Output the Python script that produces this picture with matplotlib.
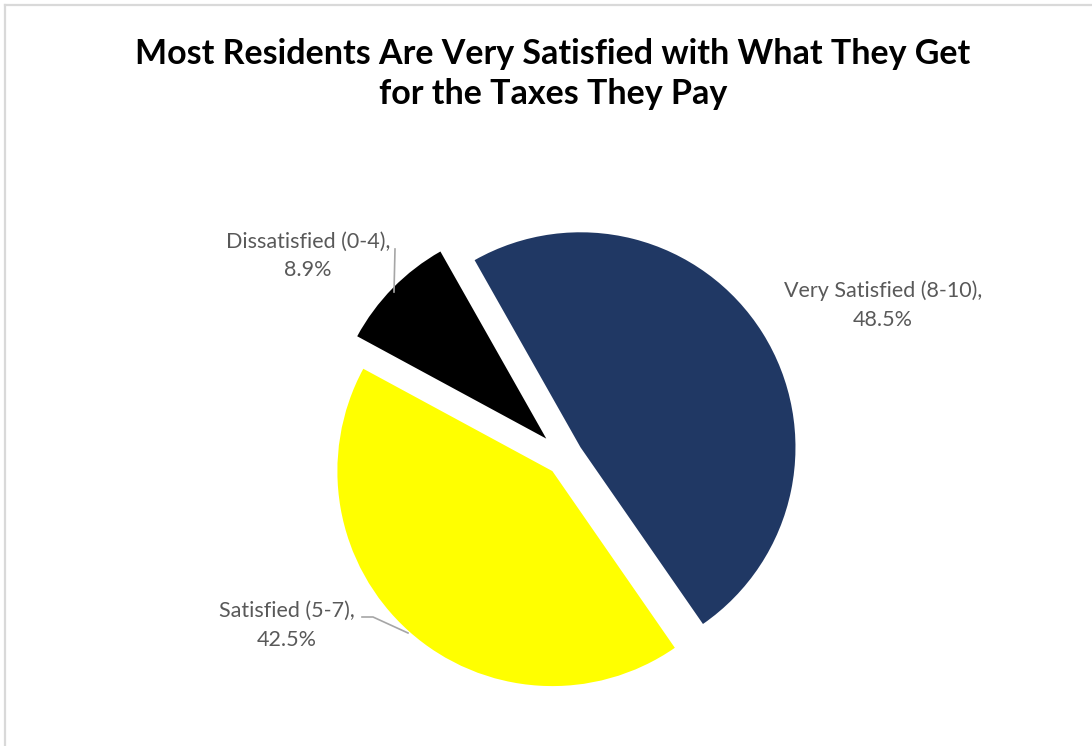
import matplotlib
matplotlib.use("Agg")
import matplotlib.pyplot as plt
from matplotlib.lines import Line2D

# Survey results: satisfaction with what residents get for their taxes
categories = ["Very Satisfied (8-10)", "Satisfied (5-7)", "Dissatisfied (0-4)"]
shares = [48.5, 42.5, 8.9]
colors = ["#203864", "#FFFF00", "#000000"]
title_lines = ["Most Residents Are Very Satisfied with What They Get",
               "for the Taxes They Pay"]

W, H = 1092, 746
fig = plt.figure(figsize=(W / 100, H / 100), dpi=100)
fig.patch.set_facecolor("white")


def fx(x):
    return x / W


def fy(y):
    return 1 - y / H


# light chart-area border (top and left edges)
fig.add_artist(Line2D([fx(5), fx(W)], [fy(5), fy(5)], color="#d9d9d9", lw=1.6))
fig.add_artist(Line2D([fx(5), fx(5)], [fy(5), fy(H)], color="#d9d9d9", lw=1.6))

# pie axes: centre at (565, 457) px, radius 215 px
cx, cy, R, half = 565, 457, 215, 300
ax = fig.add_axes([fx(cx - half), fy(cy + half), 2 * half / W, 2 * half / H])
ax.pie(shares, colors=colors, startangle=119.5, counterclock=False,
       explode=[0.085, 0.088, 0.122], radius=1.0,
       wedgeprops=dict(linewidth=0))
lim = half / R
ax.set_xlim(-lim, lim)
ax.set_ylim(-lim, lim)
ax.set_aspect("equal")
ax.axis("off")

# title
title_font = dict(family=["Lato", "DejaVu Sans"], fontweight="bold",
                  color="black", ha="center", va="baseline")
fig.text(fx(553), fy(64), title_lines[0], fontsize=24.5, **title_font)
fig.text(fx(553), fy(104), title_lines[1], fontsize=24.5, **title_font)

# data labels (centre x, first baseline, second baseline)
label_spots = [(883, 297, 326), (287, 617, 646), (308, 248, 276)]
label_font = dict(family=["Lato", "DejaVu Sans"], color="#595959",
                  fontsize=15.5, ha="center", va="baseline")
for cat, val, (lx, b1, b2) in zip(categories, shares, label_spots):
    fig.text(fx(lx), fy(b1), f"{cat},", **label_font)
    fig.text(fx(lx), fy(b2), f"{val:.1f}%", **label_font)

# leader lines
leader = dict(color="#a6a6a6", lw=1.2)
fig.add_artist(Line2D([fx(395), fx(394)], [fy(249), fy(292)], **leader))
fig.add_artist(Line2D([fx(362), fx(373), fx(408)],
                      [fy(617), fy(617), fy(633)], **leader))

fig.savefig("out.png", dpi=100, facecolor="white")
